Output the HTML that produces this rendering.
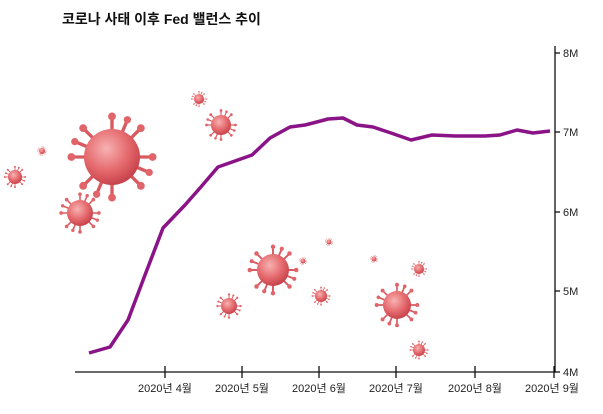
<!DOCTYPE html>
<html><head><meta charset="utf-8"><style>
body{margin:0;background:#fff;}
svg{display:block;font-family:"Liberation Sans","Noto Sans CJK KR",sans-serif;}
</style></head><body>
<svg width="603" height="414" viewBox="0 0 603 414">
<defs>
<radialGradient id="g" cx="40%" cy="35%" r="65%"><stop offset="0" stop-color="#f7b2b2"/><stop offset="0.6" stop-color="#e56a6e"/><stop offset="1" stop-color="#c8444c"/></radialGradient>
<g id="v">
<g stroke="#d85a60" stroke-width="0.12" stroke-linecap="round">
<line x1="0" y1="-1" x2="0" y2="-1.45"/><line x1="0" y1="1" x2="0" y2="1.45"/><line x1="-1" y1="0" x2="-1.45" y2="0"/><line x1="1" y1="0" x2="1.45" y2="0"/>
<line x1="0.7" y1="0.7" x2="1.03" y2="1.03"/><line x1="-0.7" y1="0.7" x2="-1.03" y2="1.03"/><line x1="0.7" y1="-0.7" x2="1.03" y2="-1.03"/><line x1="-0.7" y1="-0.7" x2="-1.03" y2="-1.03"/>
<line x1="0.38" y1="-0.92" x2="0.55" y2="-1.33"/><line x1="-0.38" y1="0.92" x2="-0.55" y2="1.33"/><line x1="0.92" y1="0.38" x2="1.33" y2="0.55"/><line x1="-0.92" y1="-0.38" x2="-1.33" y2="-0.55"/>
</g>
<g fill="#e0646a">
<circle cx="0" cy="-1.45" r="0.14"/><circle cx="0" cy="1.45" r="0.14"/><circle cx="-1.45" cy="0" r="0.14"/><circle cx="1.45" cy="0" r="0.14"/>
<circle cx="1.03" cy="1.03" r="0.14"/><circle cx="-1.03" cy="1.03" r="0.14"/><circle cx="1.03" cy="-1.03" r="0.14"/><circle cx="-1.03" cy="-1.03" r="0.14"/>
<circle cx="0.55" cy="-1.33" r="0.13"/><circle cx="-0.55" cy="1.33" r="0.13"/><circle cx="1.33" cy="0.55" r="0.13"/><circle cx="-1.33" cy="-0.55" r="0.13"/>
</g>
<circle r="1" fill="url(#g)"/>
</g>
</defs>
<text x="62" y="24" font-size="14" font-weight="bold" fill="#111">코로나 사태 이후 Fed 밸런스 추이</text>

<use href="#v" transform="translate(112,157) scale(28)"/>
<use href="#v" transform="translate(80,213) scale(13)"/>
<use href="#v" transform="translate(15,177) scale(7)"/>
<use href="#v" transform="translate(42,151) scale(3)"/>
<use href="#v" transform="translate(199,99) scale(5)"/>
<use href="#v" transform="translate(221,125) scale(10)"/>
<use href="#v" transform="translate(229,306) scale(8)"/>
<use href="#v" transform="translate(273,270) scale(16)"/>
<use href="#v" transform="translate(321,296) scale(6)"/>
<use href="#v" transform="translate(329,242) scale(2.5)"/>
<use href="#v" transform="translate(303,261) scale(2.5)"/>
<use href="#v" transform="translate(397,305) scale(14)"/>
<use href="#v" transform="translate(419,269) scale(5)"/>
<use href="#v" transform="translate(419,350) scale(6)"/>
<use href="#v" transform="translate(374,259) scale(2.5)"/>

<polyline fill="none" stroke="#8a1387" stroke-width="3.5" stroke-linejoin="round" points="89,353 110,347 128,320 145,275 163,228 185,205 200,188 218,167 235,161 252,155 270,138 290,127 305,125 313,123 328,119 343,118 357,125 373,127 391,133 411,140 432,135 455,136 485,136 500,135 517,130 533,133 550,131"/>

<g stroke="#111" stroke-width="1.3">
<line x1="75" y1="372" x2="556" y2="372"/>
<line x1="555" y1="46" x2="555" y2="372"/>
<line x1="555" y1="53" x2="560" y2="53"/>
<line x1="555" y1="132" x2="560" y2="132"/>
<line x1="555" y1="212" x2="560" y2="212"/>
<line x1="555" y1="291" x2="560" y2="291"/>
<line x1="555" y1="372" x2="560" y2="372"/>
<line x1="165" y1="366" x2="165" y2="378"/>
<line x1="242" y1="366" x2="242" y2="378"/>
<line x1="319" y1="366" x2="319" y2="378"/>
<line x1="396" y1="366" x2="396" y2="378"/>
<line x1="475" y1="366" x2="475" y2="378"/>
<line x1="554" y1="366" x2="554" y2="378"/>
</g>
<g font-size="11" fill="#222">
<text x="563" y="57">8M</text>
<text x="563" y="136">7M</text>
<text x="563" y="216">6M</text>
<text x="563" y="295">5M</text>
<text x="563" y="376">4M</text>
</g>
<g font-size="11" fill="#222" text-anchor="middle">
<text x="165" y="392">2020년 4월</text>
<text x="242" y="392">2020년 5월</text>
<text x="319" y="392">2020년 6월</text>
<text x="396" y="392">2020년 7월</text>
<text x="475" y="392">2020년 8월</text>
<text x="552" y="392">2020년 9월</text>
</g>
</svg>
</body></html>
